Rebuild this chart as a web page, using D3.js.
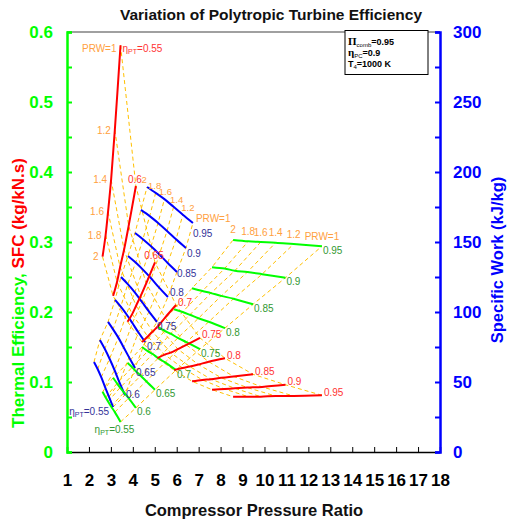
<!DOCTYPE html>
<html>
<head>
<meta charset="utf-8">
<script src="https://cdn.jsdelivr.net/npm/d3@7"></script>
<style>
  body { margin: 0; background: #fff; }
  svg { display: block; font-family: Arial, "Liberation Sans", sans-serif; }
</style>
</head>
<body>
<svg id="chart" width="508" height="520"></svg>
<script>
// Polytropic turbine efficiency carpets: one row per ηPT, one column per PRW
const etaPT = [0.55, 0.6, 0.65, 0.7, 0.75, 0.8, 0.85, 0.9, 0.95];
const etaLabels = ["0.55", "0.6", "0.65", "0.7", "0.75", "0.8", "0.85", "0.9", "0.95"];
const prwValues = [1, 1.2, 1.4, 1.6, 1.8, 2];
const prwLabels = ["PRW=1", "1.2", "1.4", "1.6", "1.8", "2"];

// Compressor pressure ratio for the thermal-efficiency and SFC carpets
const prcEffSfc = [
  [3.44, 3.18, 3.01, 2.87, 2.76, 2.62],
  [4.14, 3.81, 3.60, 3.42, 3.28, 3.10],
  [5.01, 4.61, 4.36, 4.15, 3.97, 3.76],
  [5.97, 5.47, 5.16, 4.90, 4.68, 4.42],
  [7.06, 6.44, 6.05, 5.72, 5.45, 5.12],
  [8.20, 7.46, 6.99, 6.60, 6.27, 5.88],
  [9.48, 8.59, 8.03, 7.56, 7.17, 6.70],
  [10.96, 9.89, 9.22, 8.65, 8.18, 7.61],
  [12.62, 11.33, 10.51, 9.83, 9.26, 8.57]
];

// Specific fuel consumption, kg/kN.s
const sfc = [
  [0.581, 0.460, 0.389, 0.343, 0.310, 0.279],
  [0.380, 0.323, 0.289, 0.264, 0.243, 0.223],
  [0.271, 0.241, 0.223, 0.209, 0.197, 0.186],
  [0.210, 0.192, 0.180, 0.172, 0.165, 0.157],
  [0.163, 0.153, 0.147, 0.142, 0.139, 0.134],
  [0.134, 0.129, 0.125, 0.122, 0.120, 0.117],
  [0.111, 0.108, 0.106, 0.104, 0.103, 0.101],
  [0.096, 0.093, 0.092, 0.091, 0.090, 0.089],
  [0.081, 0.080, 0.080, 0.079, 0.079, 0.079]
];

// Thermal efficiency
const thermalEff = [
  [0.043, 0.057, 0.065, 0.072, 0.078, 0.086],
  [0.063, 0.077, 0.085, 0.092, 0.098, 0.106],
  [0.089, 0.101, 0.109, 0.115, 0.121, 0.127],
  [0.117, 0.128, 0.134, 0.140, 0.144, 0.150],
  [0.147, 0.157, 0.163, 0.169, 0.173, 0.179],
  [0.177, 0.186, 0.191, 0.196, 0.200, 0.204],
  [0.211, 0.219, 0.223, 0.227, 0.230, 0.234],
  [0.249, 0.254, 0.257, 0.259, 0.262, 0.264],
  [0.294, 0.297, 0.299, 0.300, 0.301, 0.303]
];

// Compressor pressure ratio for the specific-work carpet
const prcWork = [
  [3.10, 2.91, 2.73, 2.56, 2.40, 2.23],
  [3.64, 3.39, 3.17, 2.94, 2.72, 2.50],
  [4.10, 3.83, 3.58, 3.34, 3.10, 2.87],
  [4.56, 4.25, 3.98, 3.71, 3.45, 3.19],
  [5.10, 4.74, 4.41, 4.09, 3.77, 3.46],
  [5.60, 5.20, 4.84, 4.47, 4.13, 3.78],
  [6.01, 5.59, 5.21, 4.83, 4.46, 4.10],
  [6.42, 5.97, 5.56, 5.15, 4.77, 4.37],
  [6.74, 6.28, 5.86, 5.44, 5.04, 4.65]
];

// Specific work, kJ/kg
const specificWork = [
  [32.1, 39.5, 46.6, 53.4, 59.1, 64.3],
  [40.7, 49.7, 58.4, 66.6, 73.7, 80.0],
  [60.0, 67.6, 74.8, 81.7, 87.6, 92.9],
  [78.6, 85.5, 92.1, 98.4, 103.8, 108.6],
  [92.9, 100.2, 107.3, 114.1, 119.9, 125.0],
  [110.7, 117.4, 123.9, 130.1, 135.3, 140.0],
  [128.6, 135.0, 141.1, 146.9, 152.0, 156.4],
  [145.7, 151.9, 157.9, 163.6, 168.5, 172.9],
  [163.6, 169.5, 175.1, 180.6, 185.1, 189.3]
];

const xTickValues = d3.range(1, 19);

const plot = { left: 67, right: 440, top: 32, bottom: 452 };

const svg = d3.select("#chart");
const x = d3.scaleLinear().domain([1, 18]).range([plot.left, plot.right]);
const yL = d3.scaleLinear().domain([0, 0.6]).range([plot.bottom, plot.top]);
const yR = d3.scaleLinear().domain([0, 300]).range([plot.bottom, plot.top]);

const C = {
  red: "#ff0000", redText: "#ff3333",
  blue: "#0000ff", blueText: "#333399",
  green: "#00ff00", greenText: "#339933",
  dash: "#ffc000", prw: "#ffa040"
};
const FONT = "Arial, 'Liberation Sans', sans-serif";

// ---------- frame and axes ----------
svg.append("line")
  .attr("x1", plot.left).attr("x2", plot.right)
  .attr("y1", plot.top).attr("y2", plot.top)
  .attr("stroke", "#808080").attr("stroke-width", 1.5);

// bottom axis: ticks point inward
const xAxis = d3.axisBottom(x).tickValues(xTickValues).tickSize(-5).tickPadding(22)
  .tickFormat(d3.format("d"));
const gx = svg.append("g").attr("transform", `translate(0,${plot.bottom})`).call(xAxis);
gx.select(".domain").attr("stroke", "#000").attr("stroke-width", 1.5);
gx.selectAll(".tick line").attr("stroke", "#000").attr("stroke-width", 1);
gx.selectAll(".tick text").attr("font-size", 17).attr("font-weight", "bold")
  .attr("fill", "#000").attr("font-family", FONT);

// left axis (green), minor ticks every 0.05
const yLAxis = d3.axisLeft(yL).tickValues(d3.range(0, 0.6001, 0.05)).tickSize(-5)
  .tickPadding(14).tickFormat(d => {
    const r = Math.round(d * 100);
    return r % 10 === 0 ? d3.format(".1~f")(d) : "";
  });
const gyl = svg.append("g").attr("transform", `translate(${plot.left},0)`).call(yLAxis);
gyl.select(".domain").attr("stroke", C.green).attr("stroke-width", 2.5);
gyl.selectAll(".tick line").attr("stroke", C.green).attr("stroke-width", 2);
gyl.selectAll(".tick text").attr("font-size", 17).attr("font-weight", "bold")
  .attr("fill", C.green).attr("font-family", FONT);

// right axis (blue), minor ticks every 25
const yRAxis = d3.axisRight(yR).tickValues(d3.range(0, 301, 25)).tickSize(-5)
  .tickPadding(13).tickFormat(d => d % 50 === 0 ? d : "");
const gyr = svg.append("g").attr("transform", `translate(${plot.right},0)`).call(yRAxis);
gyr.select(".domain").attr("stroke", C.blue).attr("stroke-width", 2.5);
gyr.selectAll(".tick line").attr("stroke", C.blue).attr("stroke-width", 2);
gyr.selectAll(".tick text").attr("font-size", 17).attr("font-weight", "bold")
  .attr("fill", C.blue).attr("font-family", FONT);

// ---------- titles ----------
svg.append("text").attr("x", 271).attr("y", 20).attr("text-anchor", "middle")
  .attr("font-size", 15.5).attr("font-weight", "bold").attr("fill", "#111")
  .text("Variation of Polytropic Turbine Efficiency");

svg.append("text").attr("x", 254).attr("y", 516).attr("text-anchor", "middle")
  .attr("font-size", 16.5).attr("font-weight", "bold").attr("fill", "#111")
  .text("Compressor Pressure Ratio");

const lt = svg.append("text").attr("transform", "translate(24,293) rotate(-90)")
  .attr("text-anchor", "middle").attr("font-size", 17).attr("font-weight", "bold");
lt.append("tspan").attr("fill", C.green).text("Thermal Efficiency, ");
lt.append("tspan").attr("fill", C.red).text("SFC (kg/kN.s)");

svg.append("text").attr("transform", "translate(503,260) rotate(-90)")
  .attr("text-anchor", "middle").attr("font-size", 16.5).attr("font-weight", "bold")
  .attr("fill", C.blue).text("Specific Work (kJ/kg)");

// ---------- condition box ----------
const box = svg.append("g");
box.append("rect").attr("x", 345).attr("y", 30.5).attr("width", 83).attr("height", 44)
  .attr("fill", "#fff").attr("stroke", "#000").attr("stroke-width", 1);
const conds = [
  { sym: "Π", sub: "comb", rest: "=0.95", serif: true },
  { sym: "η", sub: "PC", rest: "=0.9", serif: true },
  { sym: "T", sub: "4", rest: "=1000 K", serif: false }
];
conds.forEach((c, i) => {
  const t = box.append("text").attr("x", 348).attr("y", 45 + i * 11)
    .attr("font-size", 9).attr("font-weight", "bold").attr("fill", "#000");
  t.append("tspan").attr("font-family", c.serif ? "'Liberation Serif', 'DejaVu Serif', serif" : null)
    .attr("font-size", c.serif ? 11 : 9).text(c.sym);
  t.append("tspan").attr("font-size", 6).attr("font-weight", "normal").attr("dy", 2).text(c.sub);
  t.append("tspan").attr("dy", -2).text(c.rest);
});

// ---------- carpets ----------
function grid(xs, ys, yScale) {
  return xs.map((row, i) => row.map((v, j) => [x(v), yScale(ys[i][j])]));
}
const redPts = grid(prcEffSfc, sfc, yL);
const greenPts = grid(prcEffSfc, thermalEff, yL);
const bluePts = grid(prcWork, specificWork, yR);

const dashLine = d3.line();
const solidLine = d3.line().curve(d3.curveCatmullRom.alpha(0.5));

function drawDashes(pts) {
  prwValues.forEach((p, j) => {
    svg.append("path").attr("d", dashLine(pts.map(row => row[j])))
      .attr("fill", "none").attr("stroke", C.dash).attr("stroke-width", 1)
      .attr("stroke-dasharray", "4,3");
  });
}
function drawSolids(pts, color) {
  pts.forEach(row => {
    svg.append("path").attr("d", solidLine(row))
      .attr("fill", "none").attr("stroke", color).attr("stroke-width", 2);
  });
}

drawDashes(bluePts);
drawDashes(greenPts);
drawDashes(redPts);
drawSolids(bluePts, C.blue);
drawSolids(greenPts, C.green);
drawSolids(redPts, C.red);

// ---------- labels ----------
function label(px, py, txt, color, anchor, etaPrefix, size) {
  const t = svg.append("text").attr("x", px).attr("y", py).attr("dy", "0.35em")
    .attr("text-anchor", anchor).attr("font-size", size || 10).attr("fill", color);
  if (etaPrefix) {
    t.append("tspan").text("η");
    t.append("tspan").attr("font-size", 7).attr("dy", 2).text("PT");
    t.append("tspan").attr("dy", -2).text("=" + txt);
  } else {
    t.text(txt);
  }
}

// ηPT labels sit at the PRW=1 end of each line
redPts.forEach((row, i) => {
  const [px, py] = row[0];
  if (i === 0) label(px + 2, py + 3, etaLabels[i], C.redText, "start", true);
  else if (i < 3) label(px - 1, py - 7, etaLabels[i], C.redText, "middle");
  else label(px + 2, py - 3, etaLabels[i], C.redText, "start");
});
// small per-line nudges keep the work labels clear of the neighbouring lines
const blueNudge = [[-4, 4], [1, -1], [1, 4], [2, 5], [0, 5], [2, -5], [0, 2], [1, 5], [0, 11]];
bluePts.forEach((row, i) => {
  const [px, py] = row[0];
  const [dx, dy] = blueNudge[i];
  if (i === 0) label(px + dx, py + dy, etaLabels[i], C.blueText, "end", true);
  else label(px + dx, py + dy, etaLabels[i], C.blueText, "start");
});
greenPts.forEach((row, i) => {
  const [px, py] = row[0];
  if (i === 0) label(px - 6, py + 8, etaLabels[i], C.greenText, "middle", true);
  else label(px + 1, py + 4, etaLabels[i], C.greenText, "start");
});

// PRW labels along the outer line of each carpet
redPts[0].forEach(([px, py], j) => {
  label(px - 4, py + (j === 0 ? 3 : 0), prwLabels[j], C.prw, "end");
});
bluePts[8].forEach(([px, py], j) => {
  if (j === 0) label(px + 3, py - 4, prwLabels[j], C.prw, "start");
  else label(px + 1 - (j - 3) * 2, py - 7, prwLabels[j], C.prw, "middle", null, 9.5);
});
greenPts[8].forEach(([px, py], j) => {
  label(px, py - 10, prwLabels[j], C.prw, "middle");
});
</script>
</body>
</html>
